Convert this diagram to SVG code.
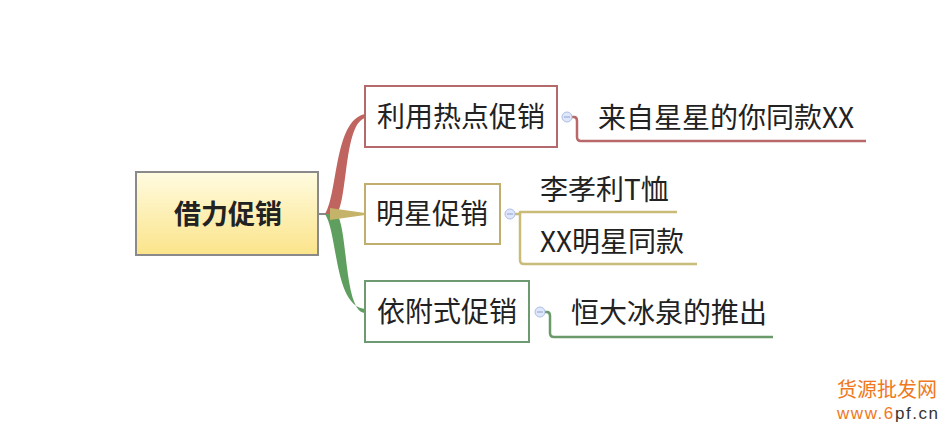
<svg xmlns="http://www.w3.org/2000/svg" width="951" height="436" viewBox="0 0 951 436">
<style>
.t{font-family:"Noto Sans CJK SC","Noto Sans",sans-serif;font-size:28px;fill:#222}
.box{fill:#fff;stroke-width:2}
.tog{fill:#dfe7fa;stroke:#aebde6;stroke-width:1}
.tog-d{stroke:#8fa0cf;stroke-width:1}
.ln{fill:none;stroke-width:2.5;stroke-linejoin:round}
.wm{font-family:"Noto Sans CJK SC",sans-serif;font-size:20px;fill:#f07820}
</style>
<defs>
<linearGradient id="gy" x1="0" y1="0" x2="0" y2="1">
<stop offset="0" stop-color="#fffbe0"/>
<stop offset="1" stop-color="#fbe48a"/>
</linearGradient>
</defs>
<rect width="951" height="436" fill="#fff"/>
<g id="connectors">
<line x1="318" y1="214" x2="334" y2="214" stroke="#888" stroke-width="2"/>
<path d="M325 214 C338 194 334 120 365 114 L365 118 C344 124 348 198 337 214 Z" fill="#c0645f"/>
<path d="M325 214 C338 234 334 306 365 309 L365 313 C344 312 348 230 337 214 Z" fill="#5e9e5e"/>
<path d="M330 208 L365 213 L365 215 L330 220 Z" fill="#c4b368"/>
<path class="ln" stroke="#b86868" d="M572 117 L574 117 Q577 117 577 121 L577 137 Q577 141 581 141 L866 141"/>
<path class="ln" stroke="#c9bb78" d="M515 214 L520 214 L520 212 L677 212 M520 214 L520 260 Q520 264 524 264 L697 264"/>
<path class="ln" stroke="#6a9a6a" d="M545 312 L547 312 Q550 312 550 316 L550 333 Q550 337 554 337 L773 337"/>
</g>
<g id="root">
<rect x="136" y="172" width="182" height="83" fill="url(#gy)" stroke="#8a8a8a" stroke-width="2"/>
<text x="228" y="224" text-anchor="middle" class="t" style="font-weight:bold;font-size:27px">借力促销</text>
</g>
<g id="n1">
<rect class="box" x="365" y="86" width="192" height="61" stroke="#b46a6a"/>
<text x="461" y="127" text-anchor="middle" class="t">利用热点促销</text>
<circle class="tog" cx="567" cy="117" r="5"/><line class="tog-d" x1="564" y1="117" x2="570" y2="117"/>
</g>
<g id="n1c">
<text x="598" y="128" class="t">来自星星的你同款XX</text>
</g>
<g id="n2">
<rect class="box" x="365" y="184" width="135" height="60" stroke="#bfae6e"/>
<text x="432" y="224" text-anchor="middle" class="t">明星促销</text>
<circle class="tog" cx="510" cy="214" r="5"/><line class="tog-d" x1="507" y1="214" x2="513" y2="214"/>
</g>
<g id="n2a"><text x="540" y="200" class="t">李孝利T恤</text></g>
<g id="n2b"><text x="540" y="252" class="t">XX明星同款</text></g>
<g id="n3">
<rect class="box" x="365" y="281" width="164" height="61" stroke="#6e9a72"/>
<text x="447" y="322" text-anchor="middle" class="t">依附式促销</text>
<circle class="tog" cx="540" cy="312" r="5"/><line class="tog-d" x1="537" y1="312" x2="543" y2="312"/>
</g>
<g id="n3c"><text x="571" y="323" class="t">恒大冰泉的推出</text></g>
<g id="watermark">
<text x="837" y="397" class="wm" textLength="100">货源批发网</text>
<text x="837" y="419" class="wm" style="font-family:'Liberation Sans',sans-serif;font-size:17px" textLength="101">www.6<tspan fill="#333">pf.cn</tspan></text>
</g>
</svg>
